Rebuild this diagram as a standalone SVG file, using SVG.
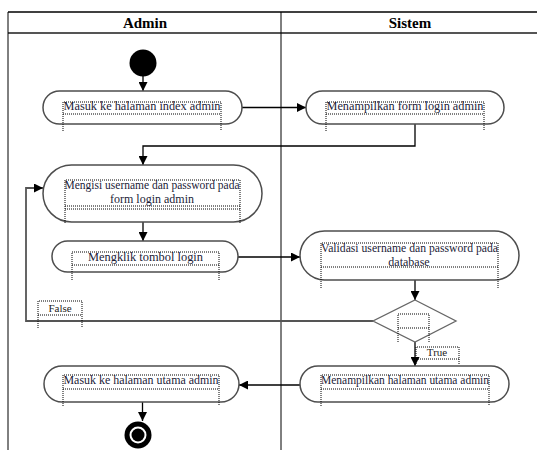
<svg xmlns="http://www.w3.org/2000/svg" width="537" height="450" viewBox="0 0 537 450">
<defs>
<marker id="ah" viewBox="0 0 10 10" refX="10" refY="5" markerWidth="9" markerHeight="9" markerUnits="userSpaceOnUse" orient="auto">
<path d="M0,0 L10,5 L0,10 z" fill="#000"/>
</marker>
<style>
text{font-family:'Liberation Serif','Times New Roman',serif}
.hdr{font-size:15px;font-weight:bold;fill:#000;text-anchor:middle}
.t{font-size:12px;fill:#1c1c38;text-anchor:middle}
.lb{font-size:11px;fill:#222;text-anchor:middle}
.act{fill:#fff;stroke:#4d4d4d;stroke-width:1.5}
.dot{fill:none;stroke:#000;stroke-width:1;stroke-dasharray:1 1}
.c{fill:none;stroke:#000;stroke-width:1.3}
.cg{fill:none;stroke:#555;stroke-width:1.8}
</style>
</defs>
<rect width="537" height="450" fill="#fff"/>
<g id="swimlanes">
<line x1="8" y1="12" x2="537" y2="12" stroke="#000" stroke-width="1.3"/>
<line x1="8" y1="33" x2="537" y2="33" stroke="#555" stroke-width="2"/>
<line x1="8" y1="12" x2="8" y2="450" stroke="#000" stroke-width="1"/>
<line x1="281" y1="12" x2="281" y2="450" stroke="#000" stroke-width="1"/>
<text class="hdr" x="145" y="28">Admin</text>
<text class="hdr" x="410" y="28">Sistem</text>
</g>
<g id="connectors">
<line class="c" x1="143" y1="76" x2="143" y2="91" marker-end="url(#ah)"/>
<line class="c" x1="242" y1="107.5" x2="306" y2="107.5" marker-end="url(#ah)"/>
<polyline class="c" points="415,124 415,146 143,146 143,165" marker-end="url(#ah)"/>
<line class="c" x1="143" y1="222" x2="143" y2="241" marker-end="url(#ah)"/>
<line class="c" x1="238" y1="257" x2="300" y2="257" marker-end="url(#ah)"/>
<line class="c" x1="415" y1="280" x2="415" y2="300" marker-end="url(#ah)"/>
<polyline class="cg" points="373,321 26,321 26,188 43,188" marker-end="url(#ah)"/>
<line class="c" x1="415" y1="342" x2="415" y2="366" marker-end="url(#ah)"/>
<line class="c" x1="300" y1="385" x2="239" y2="385" marker-end="url(#ah)"/>
<line class="c" x1="142.5" y1="402" x2="142.5" y2="421" marker-end="url(#ah)"/>
<g id="label-false">
<path class="dot" d="M38,328 V301 H82 V328 M38,315 H82"/>
<text class="lb" x="60" y="312">False</text>
</g>
<g id="label-true">
<path class="dot" d="M416,364 V347 H459 V364 M416,359 H459"/>
<text class="lb" x="437" y="356">True</text>
</g>
</g>
<g id="start">
<circle cx="143" cy="63" r="13.5" fill="#000"/>
</g>
<g id="n1">
<rect class="act" x="43" y="91" width="199" height="33" rx="16.5"/>
<path class="dot" d="M63,131 V102 H221 V131 M63,114 H221"/>
<text class="t" x="142" y="110" textLength="157" lengthAdjust="spacingAndGlyphs">Masuk ke halaman index admin</text>
</g>
<g id="n2">
<rect class="act" x="306" y="91" width="198" height="33" rx="16.5"/>
<path class="dot" d="M326,131 V102 H484 V131 M326,114 H484"/>
<text class="t" x="405" y="110" textLength="157" lengthAdjust="spacingAndGlyphs">Menampilkan form login admin</text>
</g>
<g id="n3">
<rect class="act" x="43" y="165" width="219" height="57" rx="28.5"/>
<path class="dot" d="M65,223 V180 H240 V223 M65,206 H240 M65,209 H240"/>
<text class="t" x="152" y="189" textLength="175" lengthAdjust="spacingAndGlyphs">Mengisi username dan password pada</text>
<text class="t" x="152" y="203">form login admin</text>
</g>
<g id="n4">
<rect class="act" x="52" y="241" width="186" height="31" rx="15.5"/>
<path class="dot" d="M72,280 V252 H219 V280 M72,265 H219"/>
<text class="t" x="145.5" y="261" textLength="115" lengthAdjust="spacingAndGlyphs">Mengklik tombol login</text>
</g>
<g id="n5">
<rect class="act" x="300" y="231" width="219" height="49" rx="24.5"/>
<path class="dot" d="M321,288 V243 H498 V288 M321,267 H498"/>
<text class="t" x="409.5" y="252" textLength="177" lengthAdjust="spacingAndGlyphs">Validasi username dan password pada</text>
<text class="t" x="409" y="266">database</text>
</g>
<g id="decision">
<polygon points="415,300 456,321 415,342 373,321" fill="#fff" stroke="#666" stroke-width="1.3"/>
<path class="dot" d="M398,342 V314 H429 V342 M398,328 H429"/>
</g>
<g id="n6">
<rect class="act" x="300" y="366" width="209" height="36" rx="18"/>
<path class="dot" d="M321,406 V375 H489 V406 M321,389 H489"/>
<text class="t" x="405" y="384" textLength="168" lengthAdjust="spacingAndGlyphs">Menampilkan halaman utama admin</text>
</g>
<g id="n7">
<rect class="act" x="44" y="366" width="195" height="36" rx="18"/>
<path class="dot" d="M63,406 V375 H219 V406 M63,389 H219"/>
<text class="t" x="141" y="384" textLength="155" lengthAdjust="spacingAndGlyphs">Masuk ke halaman utama admin</text>
</g>
<g id="end">
<circle cx="138" cy="435" r="13.5" fill="#000"/>
<circle cx="138" cy="435" r="8.5" fill="#fff"/>
<circle cx="138" cy="435" r="6.5" fill="#000"/>
</g>
</svg>
